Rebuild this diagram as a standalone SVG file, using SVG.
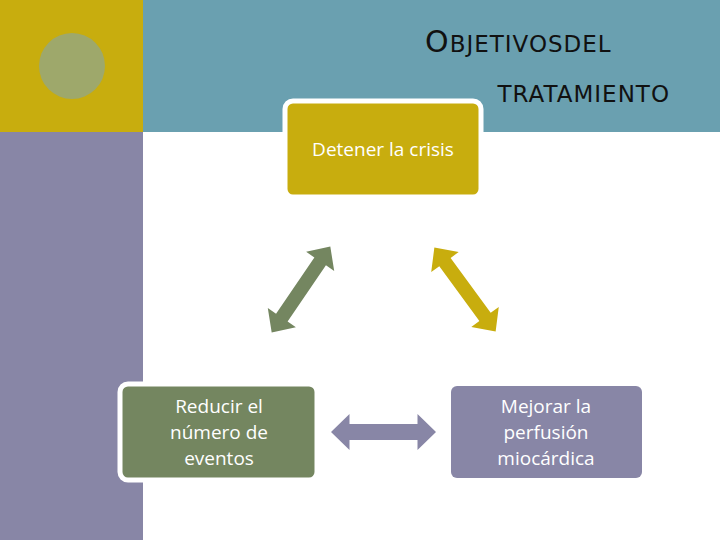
<svg xmlns="http://www.w3.org/2000/svg" width="720" height="540" viewBox="0 0 720 540">
<style>
.box{stroke:#fff;stroke-width:5}
.t{font-family:"Open Sans","DejaVu Sans",sans-serif;font-size:19px;fill:#fff;text-anchor:middle}
.ti{font-family:"DejaVu Sans",sans-serif;fill:#111;letter-spacing:1px}
</style>
<rect width="720" height="540" fill="#fff"/>
<rect x="0" y="0" width="143" height="132" fill="#c8ad0e"/>
<rect x="143" y="0" width="577" height="132" fill="#6aa0b0"/>
<rect x="0" y="132" width="143" height="408" fill="#8886a6"/>
<circle cx="72" cy="66" r="33" fill="#9ea86b"/>
<text class="ti" x="425" y="52"><tspan font-size="30">O</tspan><tspan font-size="23">BJETIVOSDEL</tspan></text>
<text class="ti" x="670" y="102" font-size="23" text-anchor="end">TRATAMIENTO</text>
<g id="connectors">
<polygon transform="translate(301,289.5) rotate(-55.7)" fill="#748660" points="-52,0 -34,-17 -34,-7 34,-7 34,-17 52,0 34,17 34,7 -34,7 -34,17"/>
<polygon transform="translate(465,289.5) rotate(53.9)" fill="#c8ad0e" points="-52,0 -34,-17 -34,-7 34,-7 34,-17 52,0 34,17 34,7 -34,7 -34,17"/>
<polygon transform="translate(383.5,432)" fill="#8886a6" points="-52.5,0 -34,-18 -34,-8 34,-8 34,-18 52.5,0 34,18 34,8 -34,8 -34,18"/>
</g>
<g id="n1"><rect class="box" x="285" y="101" width="196" height="96" rx="8" fill="#c8ad0e"/><text class="t" x="383" y="156">Detener la crisis</text></g>
<g id="n2"><rect class="box" x="120" y="384" width="197" height="96" rx="8" fill="#748660"/><text class="t" x="219" y="413">Reducir el<tspan x="219" dy="26">número de</tspan><tspan x="219" dy="26">eventos</tspan></text></g>
<g id="n3"><rect x="451" y="386" width="191" height="92" rx="6" fill="#8886a6"/><text class="t" x="546" y="413">Mejorar la<tspan x="546" dy="26">perfusión</tspan><tspan x="546" dy="26">miocárdica</tspan></text></g>
</svg>
